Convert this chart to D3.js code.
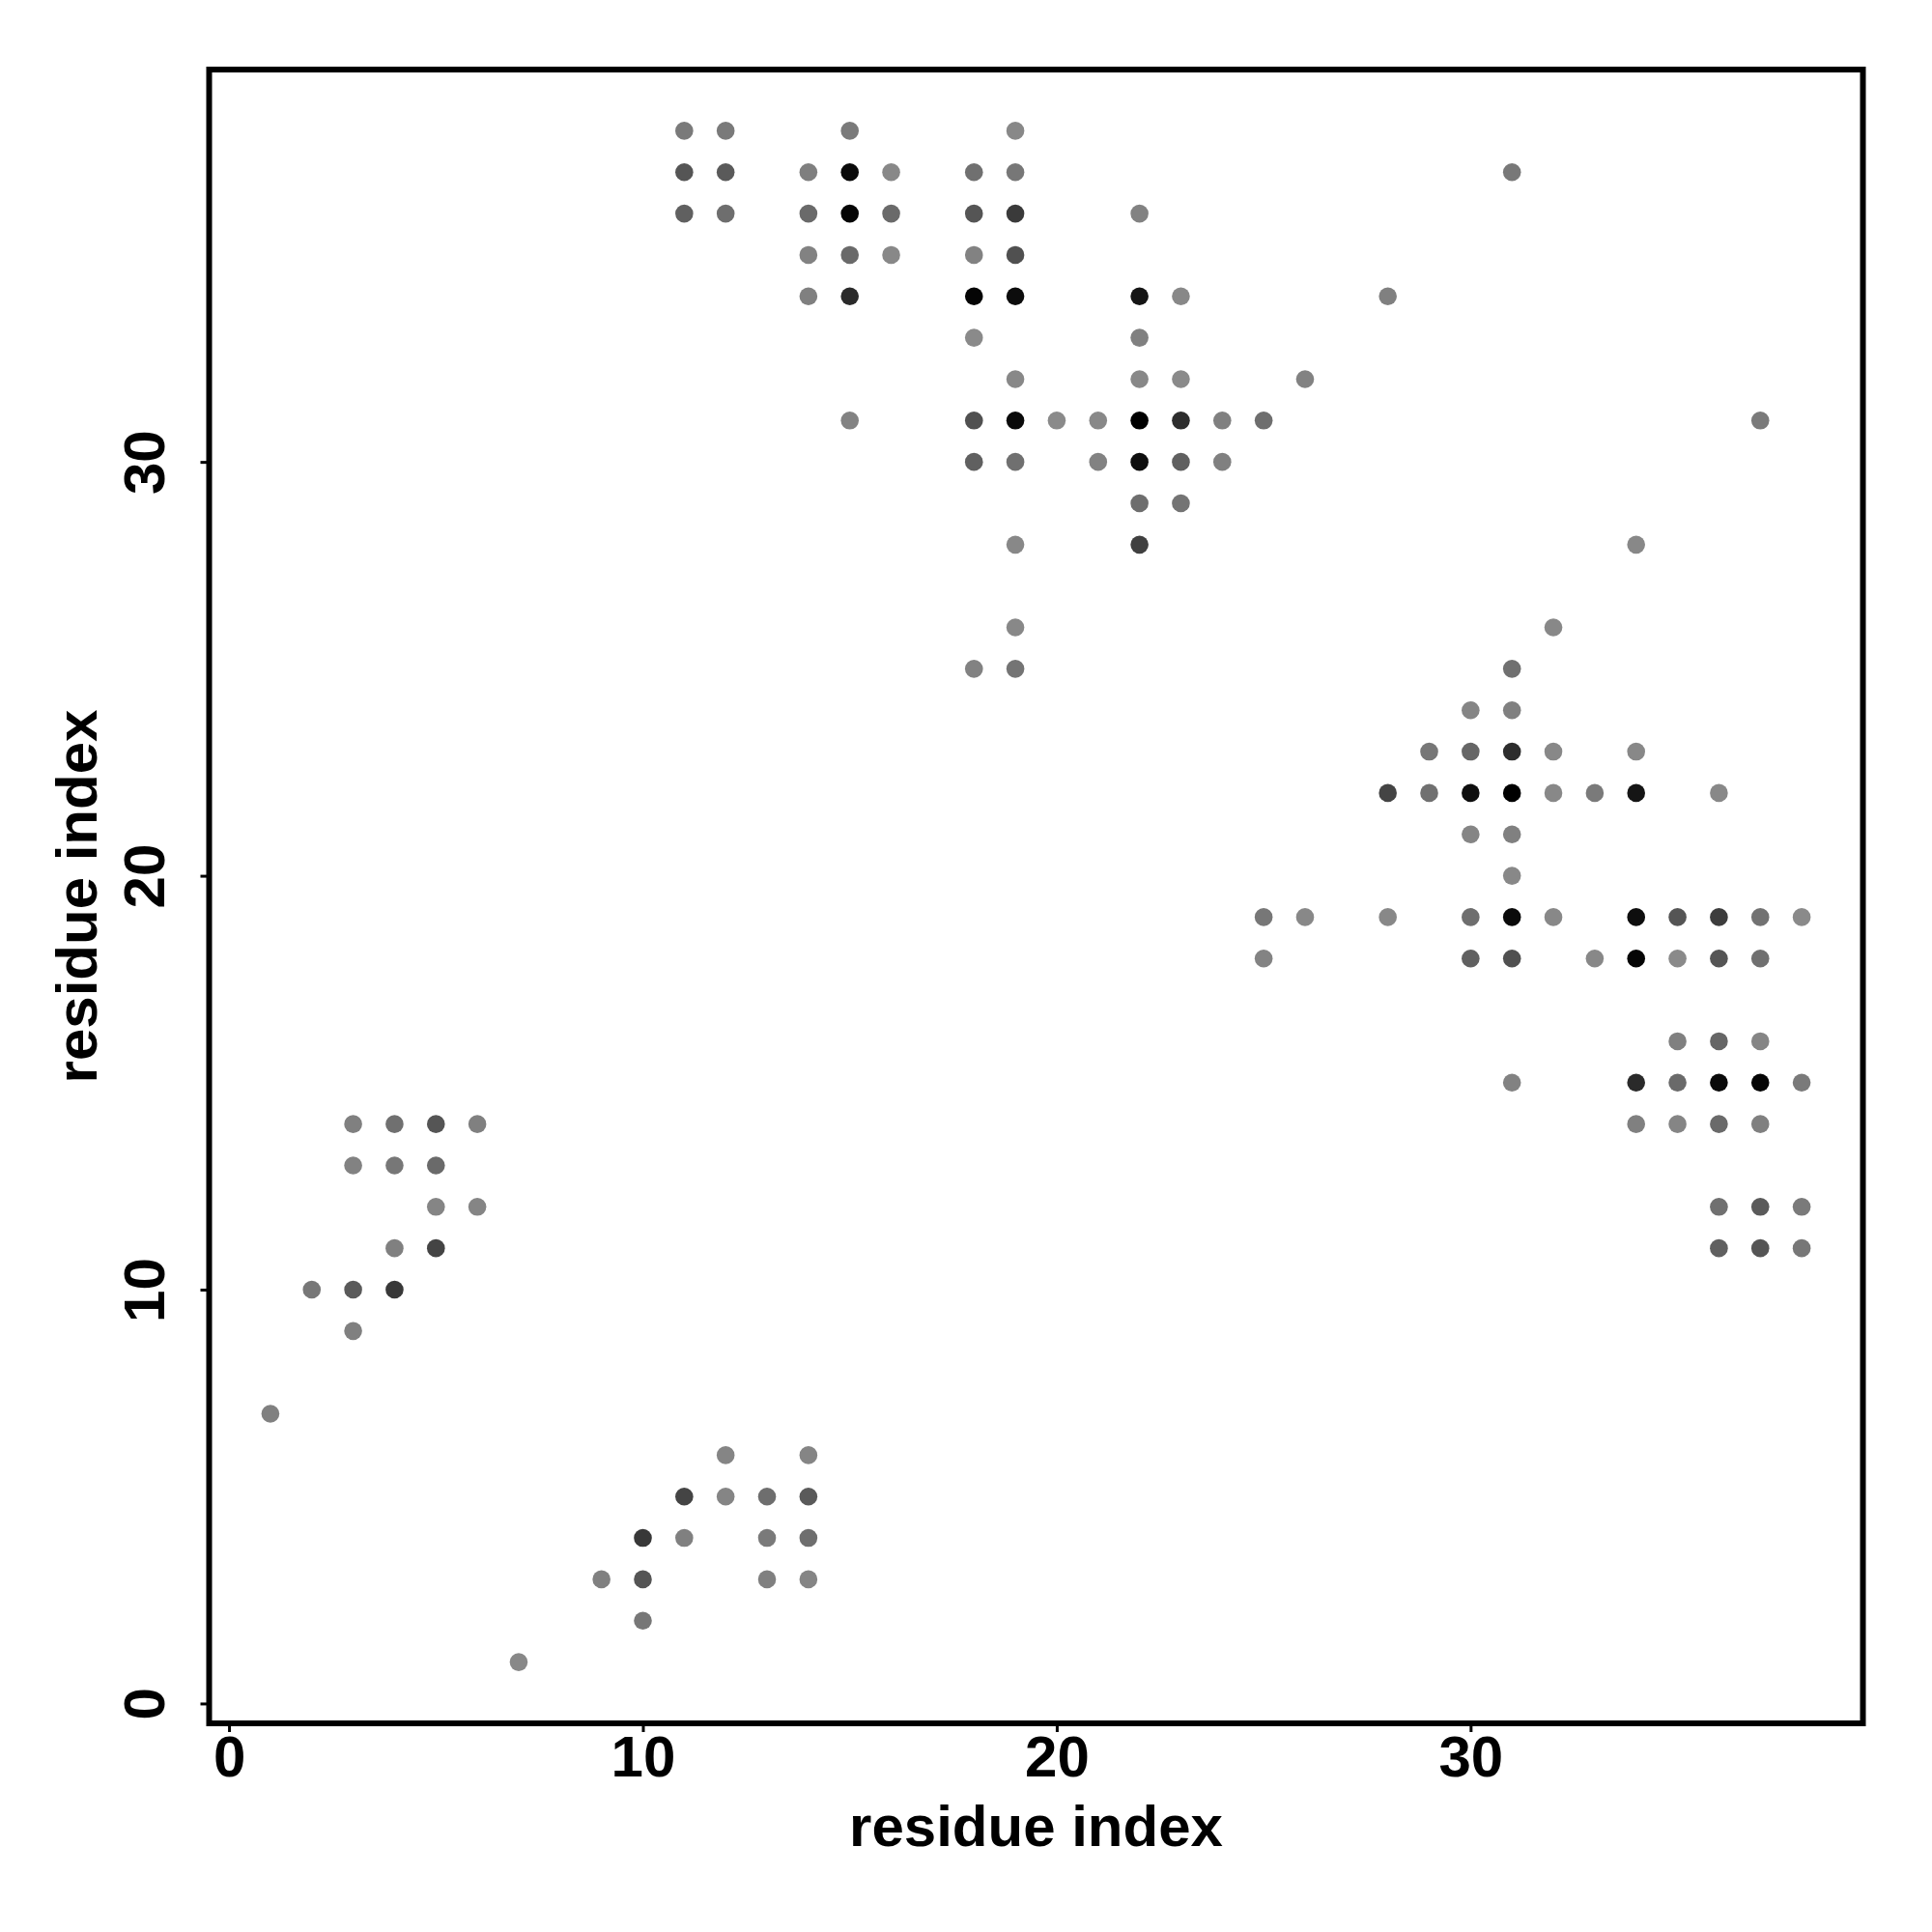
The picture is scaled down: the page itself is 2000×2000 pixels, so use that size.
<!DOCTYPE html>
<html>
<head>
<meta charset="utf-8">
<script src="https://cdn.jsdelivr.net/npm/d3@7"></script>
<style>
  html, body { margin: 0; padding: 0; background: #fff; }
  text { font-family: "Liberation Sans", Arial, Helvetica, sans-serif; font-weight: bold; }
</style>
</head>
<body>
<svg id="chart" width="2000" height="2000"></svg>
<script>
// residue index pairs (x = residue i, y = residue j)
const resX = [
  11,12,15,19,
  11,12,14,15,16,18,19,31,
  11,12,14,15,16,18,19,22,
  14,15,16,18,19,
  14,15,18,19,22,23,28,
  18,22,
  19,22,23,26,
  15,18,19,20,21,22,23,24,25,37,
  18,19,21,22,23,24,
  22,23,
  19,22,34,
  19,32,
  18,19,31,
  30,31,
  29,30,31,32,34,
  28,29,30,31,32,33,34,36,
  30,31,
  31,
  25,26,28,30,31,32,34,35,36,37,38,
  25,30,31,33,34,35,36,37,
  35,36,37,
  31,34,35,36,37,38,
  3,4,5,6,34,35,36,37,
  3,4,5,
  5,6,36,37,38,
  4,5,36,37,38,
  2,3,4,
  3,
  1,
  12,14,
  11,12,13,14,
  10,11,13,14,
  9,10,13,14,
  10,
  7
];
const resY = [
  38,38,38,38,
  37,37,37,37,37,37,37,37,
  36,36,36,36,36,36,36,36,
  35,35,35,35,35,
  34,34,34,34,34,34,34,
  33,33,
  32,32,32,32,
  31,31,31,31,31,31,31,31,31,31,
  30,30,30,30,30,30,
  29,29,
  28,28,28,
  26,26,
  25,25,25,
  24,24,
  23,23,23,23,23,
  22,22,22,22,22,22,22,22,
  21,21,
  20,
  19,19,19,19,19,19,19,19,19,19,19,
  18,18,18,18,18,18,18,18,
  16,16,16,
  15,15,15,15,15,15,
  14,14,14,14,14,14,14,14,
  13,13,13,
  12,12,12,12,12,
  11,11,11,11,11,
  10,10,10,
  9,
  7,
  6,6,
  5,5,5,5,
  4,4,4,4,
  3,3,3,3,
  2,
  1
];
// grey level of each point (0 = black, 255 = white)
const shade = [
  122,122,122,136,
  85,90,127,10,136,112,119,120,
  96,110,106,5,106,85,58,130,
  130,106,136,130,80,
  128,42,5,12,21,136,128,
  138,128,
  136,136,138,130,
  130,80,10,138,136,0,45,128,110,122,
  96,112,130,14,96,128,
  110,116,
  136,64,136,
  136,136,
  130,116,112,
  133,128,
  119,102,45,136,136,
  68,112,14,0,136,122,21,136,
  133,128,
  136,
  119,136,136,110,10,136,14,85,61,114,138,
  131,96,80,136,5,138,85,112,
  128,102,133,
  130,42,106,10,5,122,
  128,112,85,128,128,133,106,128,
  130,119,106,
  133,133,112,90,122,
  128,68,96,85,119,
  119,90,56,
  128,
  128,
  133,133,
  68,133,110,90,
  56,128,122,110,
  128,85,128,133,
  119,
  136
];
const xTicks = [0, 10, 20, 30];
const yTicks = [0, 10, 20, 30];
const axisTitle = "residue index";

const data = resX.map((d, i) => ({ x: d, y: resY[i], g: shade[i] }));

const svg = d3.select("#chart");
const pLeft = 216.5, pRight = 1928.5, pTop = 72, pBottom = 1784;
const x = d3.scaleLinear().domain([-0.48, 39.48]).range([pLeft, pRight]);
const y = d3.scaleLinear().domain([-0.48, 39.48]).range([pBottom, pTop]);

// points
svg.append("g").selectAll("circle").data(data).join("circle")
  .attr("cx", d => x(d.x))
  .attr("cy", d => y(d.y))
  .attr("r", 9.3)
  .attr("fill", d => d3.rgb(d.g, d.g, d.g));

// x axis
const gx = svg.append("g").attr("transform", `translate(0,${pBottom})`)
  .call(d3.axisBottom(x).tickValues(xTicks).tickSize(9).tickPadding(3.4).tickFormat(d3.format("d")));
gx.select(".domain").remove();
gx.selectAll(".tick line").attr("stroke", "#000").attr("stroke-width", 3);
gx.selectAll(".tick text").attr("font-size", 60).attr("fill", "#000")
  .style("font-family", '"Liberation Sans", Arial, sans-serif').style("font-weight", "bold");

// y axis
const gy = svg.append("g").attr("transform", `translate(${pLeft},0)`)
  .call(d3.axisLeft(y).tickValues(yTicks).tickSize(9).tickFormat(d3.format("d")));
gy.select(".domain").remove();
gy.selectAll(".tick line").attr("stroke", "#000").attr("stroke-width", 3);
gy.selectAll(".tick text")
  .attr("font-size", 60).attr("fill", "#000")
  .style("font-family", '"Liberation Sans", Arial, sans-serif').style("font-weight", "bold")
  .attr("text-anchor", "middle")
  .attr("transform", "rotate(-90)")
  .attr("x", 0).attr("y", -46.5).attr("dy", 0);

// box
svg.append("rect")
  .attr("x", pLeft).attr("y", pTop)
  .attr("width", pRight - pLeft).attr("height", pBottom - pTop)
  .attr("fill", "none").attr("stroke", "#000").attr("stroke-width", 6);

// axis titles
svg.append("text")
  .attr("x", (pLeft + pRight) / 2).attr("y", 1911)
  .attr("text-anchor", "middle").attr("font-size", 60).attr("fill", "#000")
  .text(axisTitle);
svg.append("text")
  .attr("transform", `translate(100,${(pTop + pBottom) / 2}) rotate(-90)`)
  .attr("text-anchor", "middle").attr("font-size", 60).attr("fill", "#000")
  .text(axisTitle);
</script>
</body>
</html>
